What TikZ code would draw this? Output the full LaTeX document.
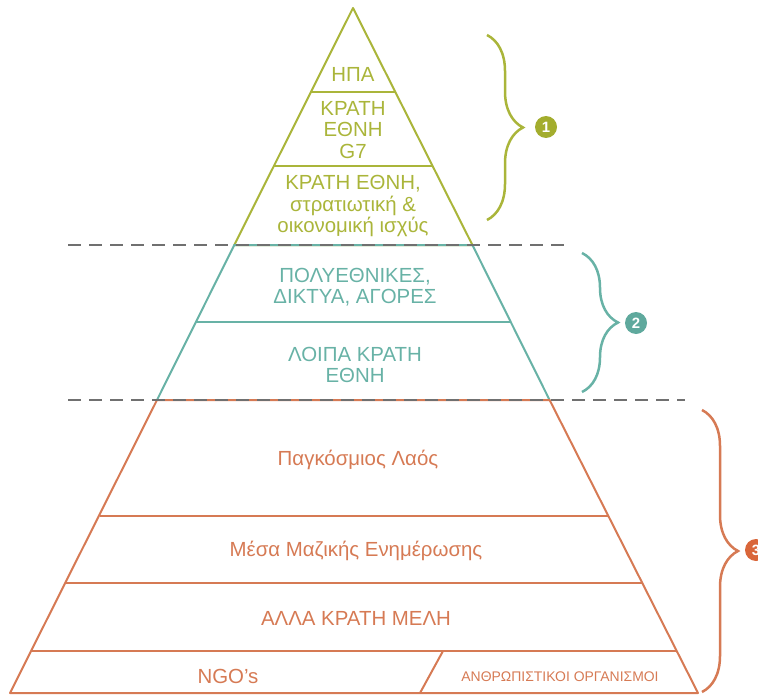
\documentclass[tikz,border=0pt]{standalone}
\usepackage{fontspec}
\setmainfont{Liberation Sans}
\usepackage{xcolor}
\usepackage{tikz}
\usetikzlibrary{decorations.pathreplacing}
\usetikzlibrary{positioning}
\definecolor{olive}{RGB}{170,181,58}
\definecolor{oliveball}{RGB}{163,173,46}
\definecolor{teal}{RGB}{104,178,166}
\definecolor{tealball}{RGB}{95,169,157}
\definecolor{rust}{RGB}{214,122,84}
\definecolor{rustball}{RGB}{217,102,58}
\definecolor{dashgrey}{RGB}{112,112,112}
\tikzset{
	tiertext/.style={align=center, font=\fontsize{20.5}{21.7}\selectfont, inner sep=0pt},
	smalltext/.style={align=center, font=\fontsize{14}{15}\selectfont, inner sep=0pt},
	tierline/.style={line width=2bp, line join=round}
}
\tikzset{
	bracket/.style={line width=2.5bp, decorate, decoration={brace, amplitude=36bp}},
	numnode/.style={circle, minimum size=22bp, inner sep=0pt, text=white, font=\fontsize{15}{15}\selectfont\bfseries},
	mydashed/.style={line width=2bp, draw=dashgrey, dash pattern=on 13bp off 8bp}
}
\begin{document}
\begin{tikzpicture}[x=1bp, y=-1bp]
		\useasboundingbox (0,0) rectangle (758,696);
		%Pyramid corners
		\coordinate (apex) at (353,8);
		\coordinate (gl) at (234.3,245);
		\coordinate (gr) at (472.4,245);
		\coordinate (tl) at (157,400);
		\coordinate (tr) at (549.6,400);
		\coordinate (bl) at (10,693);
		\coordinate (br) at (698,693);
		
		%Top tiers
		\draw[tierline, olive] (gl) -- (apex) -- (gr) -- cycle;
		\draw[tierline, olive] (311,92) -- (395,92);
		\draw[tierline, olive] (274,166) -- (432.6,166);
		%Middle tiers
		\draw[tierline, teal] (tl) -- (gl) -- (gr) -- (tr);
		\draw[tierline, teal] (196,322) -- (511,322);
		%Base tiers
		\draw[tierline, rust] (bl) -- (tl) -- (tr) -- (br) -- cycle;
		\draw[tierline, rust] (99.5,516) -- (608.8,516);
		\draw[tierline, rust] (65,583) -- (642.6,583);
		\draw[tierline, rust] (31,651) -- (677,651);
		\coordinate (ngotop) at (443,651);
		\coordinate (ngobot) at (420,693);
		\draw[tierline, rust] (ngotop) -- (ngobot);
		
		%Dashed borders
		\coordinate (d1a) at (68,245);
		\coordinate (d1b) at (570,245);
		\coordinate (d2a) at (68,400);
		\coordinate (d2b) at (685,400);
		\draw[mydashed] (d1a) -- (d1b);
		\draw[mydashed] (d2a) -- (d2b);
		
		%Texts
		\node[tiertext, text=olive] at (353,74) (usa) {ΗΠΑ};
		\node[tiertext, text=olive] at (353,130) (gseven) {ΚΡΑΤΗ\\ΕΘΝΗ\\G7};
		\node[tiertext, text=olive] at (353,206) (power) {ΚΡΑΤΗ ΕΘΝΗ,\\στρατιωτική \&\\οικονομική ισχύς};
		\node[tiertext, text=teal] at (355,287) (multi) {ΠΟΛΥΕΘΝΙΚΕΣ,\\ΔΙΚΤΥΑ, ΑΓΟΡΕΣ};
		\node[tiertext, text=teal] at (355,365) (rest) {ΛΟΙΠΑ ΚΡΑΤΗ\\ΕΘΝΗ};
		\node[tiertext, text=rust] at (358,460) (people) {Παγκόσμιος Λαός};
		\node[tiertext, text=rust] at (356,551) (media) {Μέσα Μαζικής Ενημέρωσης};
		\node[tiertext, text=rust] at (356,618) (members) {ΑΛΛΑ ΚΡΑΤΗ ΜΕΛΗ};
		\node[tiertext, text=rust] at (228,676) (ngo) {NGO’s};
		\node[smalltext, text=rust] at (560,677) (human) {ΑΝΘΡΩΠΙΣΤΙΚΟΙ ΟΡΓΑΝΙΣΜΟΙ};
		
		%Brackets
		\coordinate (b1a) at (487,35);
		\coordinate (b1b) at (487,220);
		\coordinate (b2a) at (582,253);
		\coordinate (b2b) at (582,392);
		\coordinate (b3a) at (702,410);
		\coordinate (b3b) at (702,692);
		\draw[bracket, olive] (b1a) -- (b1b);
		\draw[bracket, teal] (b2a) -- (b2b);
		\draw[bracket, rust] (b3a) -- (b3b);
		\node[numnode, fill=oliveball] at (546,127) (one) {1};
		\node[numnode, fill=tealball] at (636,323) (two) {2};
		\node[numnode, fill=rustball] at (756,550) (three) {3};
	\end{tikzpicture}
\end{document}
